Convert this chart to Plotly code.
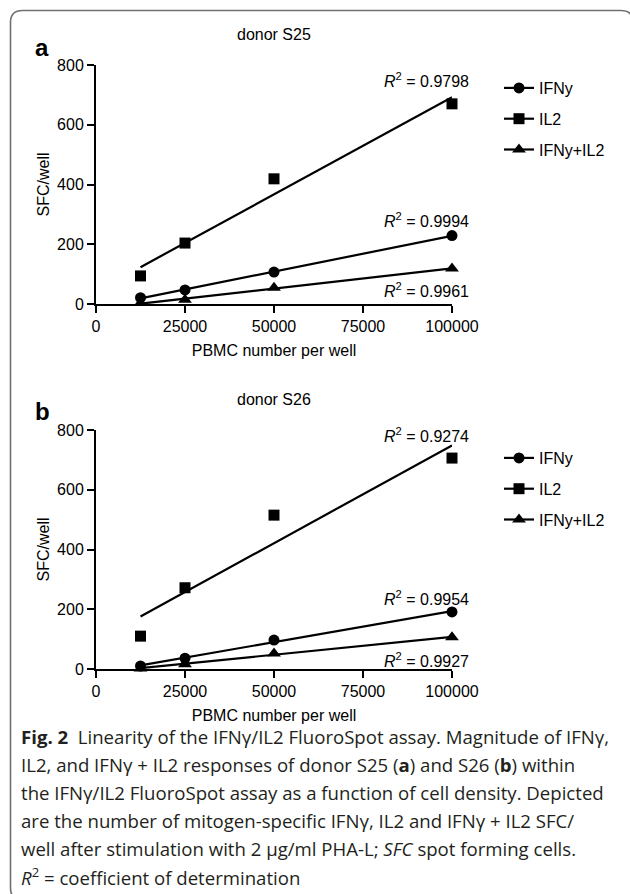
import numpy as np
import plotly.graph_objects as go

W, H = 630, 894

# ---------------- data ----------------
pbmc = [12500, 25000, 50000, 100000]
series_names = ["IFNy", "IL2", "IFNy+IL2"]
a_ifn = [21, 47, 107, 229]
a_il2 = [94, 204, 419, 670]
a_both = [3, 14, 54, 119]
b_ifn = [10, 36, 97, 191]
b_il2 = [110, 272, 515, 706]
b_both = [2, 16, 52, 106]
a_r2 = ["0.9994", "0.9798", "0.9961"]
b_r2 = ["0.9954", "0.9274", "0.9927"]
x_ticks = [0, 25000, 50000, 75000, 100000]
y_ticks = [0, 200, 400, 600, 800]

symbols = ["circle", "square", "triangle-up"]
msizes = [11, 11, 12]
FONT = "Arial, Liberation Sans, sans-serif"


def px(xp):
    return xp / W


def py(yp):
    return 1 - yp / H


fig = go.Figure()

panels = [
    ("x", "y", [a_ifn, a_il2, a_both], "legend"),
    ("x2", "y2", [b_ifn, b_il2, b_both], "legend2"),
]

for xa, ya, vals, leg in panels:
    for name, sym, ms, v in zip(series_names, symbols, msizes, vals):
        slope, icpt = np.polyfit(pbmc, v, 1)
        xf = [min(pbmc), max(pbmc)]
        yf = [slope * xx + icpt for xx in xf]
        fig.add_trace(go.Scatter(x=xf, y=yf, mode="lines", xaxis=xa, yaxis=ya,
                                 line=dict(color="black", width=2.2),
                                 showlegend=False, hoverinfo="skip", cliponaxis=False))
        fig.add_trace(go.Scatter(x=pbmc, y=v, mode="markers", xaxis=xa, yaxis=ya,
                                 marker=dict(symbol=sym, size=ms, color="black"),
                                 showlegend=False, cliponaxis=False))
        # legend entry
        fig.add_trace(go.Scatter(x=[None], y=[None], mode="lines+markers", xaxis=xa, yaxis=ya,
                                 name=name, legend=leg, legendgroup=leg + name,
                                 marker=dict(symbol=sym, size=ms, color="black"),
                                 line=dict(color="black", width=2.2)))

axis_common = dict(showline=True, linewidth=2, linecolor="black", ticks="outside",
                   ticklen=7, tickwidth=2, tickcolor="black", showgrid=False,
                   zeroline=False, tickfont=dict(family=FONT, size=16, color="black"),
                   fixedrange=True, automargin=False)

xdom = [px(96), px(452)]
xtitle = dict(text="PBMC number per well", standoff=11, font=dict(family=FONT, size=16))
ytitle = dict(text="SFC/well", standoff=3, font=dict(family=FONT, size=16))
fig.update_layout(
    template="none",
    width=W, height=H, margin=dict(l=0, r=0, t=0, b=0, autoexpand=False),
    paper_bgcolor="white", plot_bgcolor="white",
    font=dict(family=FONT, size=16, color="black"),
    xaxis=dict(domain=xdom, range=[0, 100000], tickvals=x_ticks, tickformat="d",
               anchor="y", title=xtitle, **axis_common),
    yaxis=dict(domain=[py(304), py(65)], range=[0, 800], tickvals=y_ticks,
               anchor="x", title=ytitle, **axis_common),
    xaxis2=dict(domain=xdom, range=[0, 100000], tickvals=x_ticks, tickformat="d",
                anchor="y2", title=xtitle, **axis_common),
    yaxis2=dict(domain=[py(669), py(430)], range=[0, 800], tickvals=y_ticks,
                anchor="x2", title=ytitle, **axis_common),
    legend=dict(x=px(499), y=py(71), xanchor="left", yanchor="top",
                traceorder="grouped", tracegroupgap=7, bgcolor="rgba(0,0,0,0)",
                font=dict(family=FONT, size=16, color="black")),
    legend2=dict(x=px(499), y=py(441), xanchor="left", yanchor="top",
                 traceorder="grouped", tracegroupgap=7, bgcolor="rgba(0,0,0,0)",
                 font=dict(family=FONT, size=16, color="black")),
)

ann = []
# panel titles and letters
for txt, yy in [("donor S25", 34), ("donor S26", 399)]:
    ann.append(dict(text=txt, x=px(274), y=py(yy), xref="paper", yref="paper",
                    showarrow=False, xanchor="center", yanchor="middle",
                    font=dict(family=FONT, size=16, color="black")))
for txt, yy in [("<b>a</b>", 47), ("<b>b</b>", 411)]:
    ann.append(dict(text=txt, x=px(33), y=py(yy), xref="paper", yref="paper",
                    showarrow=False, xanchor="left", yanchor="middle",
                    font=dict(family=FONT, size=24, color="black")))
# R^2 labels
r2_pos_a = [220, 80, 290]
r2_pos_b = [598, 435, 660]
for r2s, poss in [(a_r2, r2_pos_a), (b_r2, r2_pos_b)]:
    for r, yy in zip(r2s, poss):
        ann.append(dict(text="<i>R</i><sup>2</sup> = " + r, x=px(471), y=py(yy),
                        xref="paper", yref="paper", showarrow=False,
                        xanchor="right", yanchor="middle",
                        font=dict(family=FONT, size=16, color="black")))

# caption
CFONT = "Open Sans, Lato, sans-serif"
caption = [
    "<b>Fig. 2</b>  Linearity of the IFNγ/IL2 FluoroSpot assay. Magnitude of IFNγ,",
    "IL2, and IFNγ + IL2 responses of donor S25 (<b>a</b>) and S26 (<b>b</b>) within",
    "the IFNγ/IL2 FluoroSpot assay as a function of cell density. Depicted",
    "are the number of mitogen-specific IFNγ, IL2 and IFNγ + IL2 SFC/",
    "well after stimulation with 2 µg/ml PHA-L; <i>SFC</i> spot forming cells.",
    "<i>R</i><sup>2</sup> = coefficient of determination",
]
cap_y = [736, 764, 792, 820, 848, 876]
for line, yy in zip(caption, cap_y):
    ann.append(dict(text=line, x=px(19), y=py(yy), xref="paper", yref="paper",
                    showarrow=False, xanchor="left", yanchor="middle",
                    font=dict(family=CFONT, size=18.6, color="#231f20")))

fig.update_layout(annotations=ann)

# rounded border box (partly outside the canvas on the right and bottom)
x0, y0, x1, y1, r = 10.5, 10.5, 633, 900, 12
path = (f"M {px(x0)},{py(y0 + r)} Q {px(x0)},{py(y0)} {px(x0 + r)},{py(y0)} "
        f"L {px(x1 - r)},{py(y0)} Q {px(x1)},{py(y0)} {px(x1)},{py(y0 + r)} "
        f"L {px(x1)},{py(y1 - r)} Q {px(x1)},{py(y1)} {px(x1 - r)},{py(y1)} "
        f"L {px(x0 + r)},{py(y1)} Q {px(x0)},{py(y1)} {px(x0)},{py(y1 - r)} Z")
fig.add_shape(type="path", path=path, xref="paper", yref="paper",
              line=dict(color="#707070", width=1.6), fillcolor="rgba(0,0,0,0)",
              layer="below")

fig.write_html("out.html",
               config={"displayModeBar": False, "staticPlot": True},
               post_script="document.body.style.margin='0';"
                           "document.body.style.overflow='hidden';")
